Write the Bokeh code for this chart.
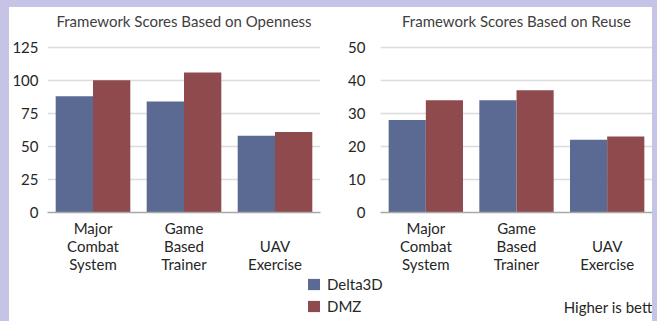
from bokeh.plotting import figure
from bokeh.models import Range1d, FactorRange, FixedTicker, Legend, LegendItem, Label, ColumnDataSource
from bokeh.transform import dodge
from bokeh.layouts import row, column
from bokeh.embed import file_html
from bokeh.resources import INLINE

categories = ["Major\nCombat\nSystem", "Game\nBased\nTrainer", "\nUAV\nExercise"]
series_names = ["Delta3D", "DMZ"]
openness_delta3d = [88, 84, 58]
openness_dmz = [100, 106, 61]
reuse_delta3d = [28, 34, 22]
reuse_dmz = [34, 37, 23]
openness_ticks = [0, 25, 50, 75, 100, 125]
reuse_ticks = [0, 10, 20, 30, 40, 50]
note_text = "Higher is bett"

BLUE = "#5a6a93"
RED = "#8f4a4e"
LAV = "#c6c4e6"
FONT = "Lato"
TXT = "#262626"

CHART_H = 268
TOP_B = 22
BOT_B = 63
TICK_SPAN = 167  # px between 0 and the top tick
FRAME_H = CHART_H - TOP_B - BOT_B


def make_chart(title, d3d, dmz, ticks, width, border_left, standoff):
    src = ColumnDataSource(dict(cat=categories, d3d=d3d, dmz=dmz))
    p = figure(x_range=FactorRange(*categories, range_padding=0),
               y_range=Range1d(0, ticks[-1] * FRAME_H / TICK_SPAN),
               width=width, height=CHART_H, output_backend="svg", toolbar_location=None,
               min_border_left=border_left, min_border_right=2, min_border_top=TOP_B,
               min_border_bottom=BOT_B, title=title)
    p.title.align = "center"
    p.title.vertical_align = "bottom"
    p.title.standoff = 4
    p.title.text_font = FONT
    p.title.text_font_size = "15px"
    p.title.text_font_style = "normal"
    p.title.text_color = "#404040"
    p.vbar(x=dodge("cat", -0.205, range=p.x_range), top="d3d", width=0.41,
           source=src, fill_color=BLUE, line_color=None)
    p.vbar(x=dodge("cat", 0.205, range=p.x_range), top="dmz", width=0.41,
           source=src, fill_color=RED, line_color=None)
    p.xgrid.grid_line_color = None
    p.ygrid.grid_line_color = "#dcdcdc"
    p.ygrid.grid_line_width = 1.5
    p.yaxis.ticker = FixedTicker(ticks=ticks)
    p.yaxis.axis_line_color = None
    p.yaxis.major_tick_line_color = None
    p.yaxis.minor_tick_line_color = None
    p.yaxis.major_tick_out = 0
    p.yaxis.major_tick_in = 0
    p.yaxis.major_label_standoff = standoff
    p.yaxis.major_label_text_font = FONT
    p.yaxis.major_label_text_font_size = "15px"
    p.yaxis.major_label_text_color = TXT
    p.xaxis.axis_line_color = "#a8a8a8"
    p.xaxis.axis_line_width = 1.5
    p.xaxis.major_tick_line_color = None
    p.xaxis.minor_tick_line_color = None
    p.xaxis.major_tick_out = 0
    p.xaxis.major_tick_in = 0
    p.xaxis.major_label_standoff = 6
    p.xaxis.major_label_text_font = FONT
    p.xaxis.major_label_text_font_size = "15px"
    p.xaxis.major_label_text_line_height = 1.0
    p.xaxis.major_label_text_color = TXT
    p.outline_line_color = None
    p.background_fill_color = "white"
    p.border_fill_color = "white"
    return p


p1 = make_chart("Framework Scores Based on Openness", openness_delta3d, openness_dmz,
                openness_ticks, 313, 35, 9)
p2 = make_chart("Framework Scores Based on Reuse", reuse_delta3d, reuse_dmz,
                reuse_ticks, 330, 58, 15)
p2.min_border_right = 0

# bottom strip holding the legend and the note
pl = figure(width=643, height=321 - 7 - CHART_H, output_backend="svg", toolbar_location=None,
            x_range=FactorRange(*categories), y_range=Range1d(0, 1),
            x_axis_type=None, y_axis_type=None,
            min_border_left=0, min_border_right=0, min_border_top=0, min_border_bottom=0)
pl.grid.grid_line_color = None
pl.outline_line_color = None
pl.background_fill_color = "white"
pl.border_fill_color = "white"
lsrc = ColumnDataSource(dict(cat=categories, d3d=reuse_delta3d, dmz=reuse_dmz))
lb = pl.vbar(x="cat", top="d3d", width=0.4, source=lsrc, fill_color=BLUE, line_color=None,
             visible=False)
lr = pl.vbar(x="cat", top="dmz", width=0.4, source=lsrc, fill_color=RED, line_color=None,
             visible=False)
legend = Legend(items=[LegendItem(label=series_names[0], renderers=[lb]),
                       LegendItem(label=series_names[1], renderers=[lr])],
                location=(297, 6), glyph_width=15, glyph_height=14, label_height=14,
                spacing=4, padding=0, margin=0, label_standoff=6,
                label_text_font=FONT, label_text_font_size="15px", label_text_color=TXT,
                label_text_line_height=1.0,
                inactive_fill_alpha=0, border_line_color=None, background_fill_alpha=0)
pl.add_layout(legend)
note = Label(x=643, y=15, x_units="screen", y_units="screen", text=note_text,
             text_font=FONT, text_font_size="15px", text_color=TXT,
             text_align="right", text_baseline="middle")
pl.add_layout(note)

inner = column(row(p1, p2), pl, styles={"background-color": "white"})
page = column(inner, styles={"background-color": LAV, "padding": "7px 5px 0px 9px"})

open("out.html", "w").write(file_html(page, INLINE))
